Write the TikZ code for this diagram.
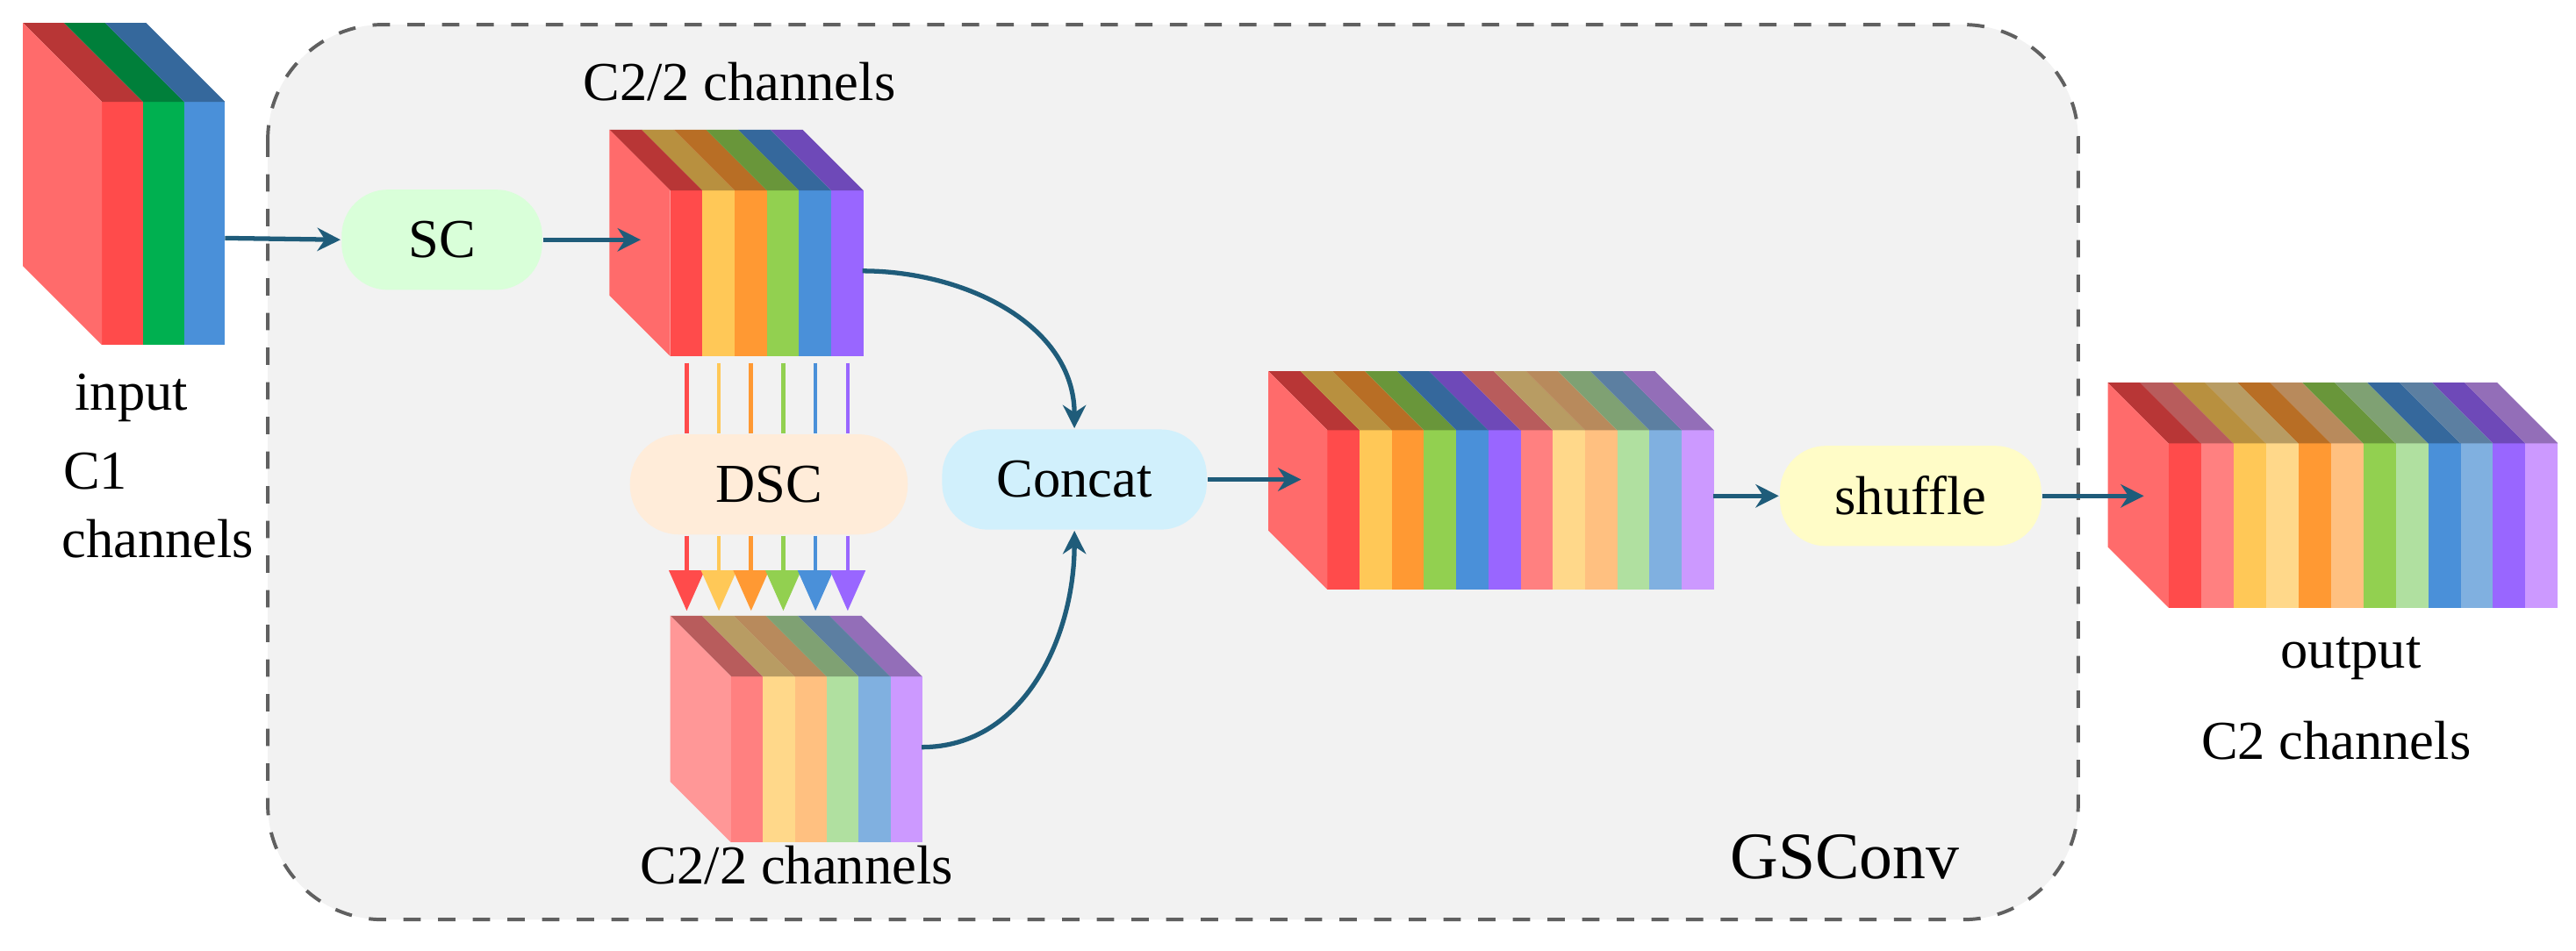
\documentclass[tikz,border=0pt]{standalone}
\usepackage{fontspec}
\setmainfont{Liberation Serif}
\usetikzlibrary{positioning, arrows.meta}
\definecolor{cR}{HTML}{FF4B4B}
\definecolor{cY}{HTML}{FFC857}
\definecolor{cO}{HTML}{FF9933}
\definecolor{cG}{HTML}{92D050}
\definecolor{cB}{HTML}{4A90D9}
\definecolor{cP}{HTML}{9966FF}
\definecolor{cGr}{HTML}{00B050}
\definecolor{lR}{HTML}{FF8080}
\definecolor{lY}{HTML}{FFD88A}
\definecolor{lO}{HTML}{FFC080}
\definecolor{lG}{HTML}{B0E0A0}
\definecolor{lB}{HTML}{80B0E0}
\definecolor{lP}{HTML}{CC99FF}
\definecolor{flow}{HTML}{1F5C7A}
\definecolor{boxgray}{HTML}{F2F2F2}
\tikzset{
  op/.style={
    rectangle,
    rounded corners=0.28cm,
    minimum height=0.61cm,
    font=\fontsize{9.5pt}{11pt}\selectfont
  },
  lbl/.style={
    font=\fontsize{9.5pt}{11pt}\selectfont,
    inner sep=0pt
  },
  arrow/.style={
    flow,
    line width=0.8pt,
    -{Stealth[length=4pt,width=4pt]}
  }
}
% front-left x, front top y, slab width, height, depth, colours
\newcommand{\chstack}[6]{%
  \foreach \c [count=\i from 0] in {#6} {
    \pgfmathsetmacro{\xa}{#1+\i*#3}
    \fill[\c] (\xa,#2) rectangle ++(#3,#4);
    \fill[\c!72!black] (\xa,#2) -- ++(#3,0) -- ++(-#5,-#5) -- ++(-#3,0) -- cycle;
    \ifnum\i=0
      \fill[\c!82!white] (\xa,#2) -- ++(0,#4) -- ++(-#5,-#5) -- ++(0,-#4) -- cycle;
    \fi
  }}

\begin{document}
\begin{tikzpicture}[x=0.01cm, y=-0.01cm]
\useasboundingbox (0,0) rectangle (1568,579);

% GSConv block
\draw[gray!75!black, dashed, line width=0.6pt, fill=boxgray, rounded corners=0.7cm] (163,15) rectangle (1265,560);
\node[font=\fontsize{11.5pt}{13pt}\selectfont] (gsconv) at (1123,522) {GSConv};

% Feature maps
\chstack{62}{62}{25}{148}{48}{cR,cGr,cB}
\chstack{408}{116}{19.6}{101}{37}{cR,cY,cO,cG,cB,cP}
\chstack{445}{412}{19.4}{101}{37}{lR,lY,lO,lG,lB,lP}
\chstack{808}{262}{19.6}{97}{36}{cR,cY,cO,cG,cB,cP,lR,lY,lO,lG,lB,lP}
\chstack{1320}{270}{19.75}{100}{37}{cR,lR,cY,lY,cO,lO,cG,lG,cB,lB,cP,lP}

% Labels
\node[lbl] (inlbl) at (80,242) {input};
\node[lbl] (c1lbl) at (58,287) {C1};
\node[lbl] (chlbl) at (96,328) {channels};
\node[lbl] (toplbl) at (450,50) {C2/2 channels};
\node[lbl] (botlbl) at (485,527) {C2/2 channels};
\node[lbl] (outlbl) at (1431,401) {output};
\node[lbl] (c2lbl) at (1422,451) {C2 channels};

% Operations
\node[op, fill=green!15!white, minimum width=1.22cm] (sc) at (269,146) {SC};
\node[op, fill=orange!15!white, minimum width=1.69cm, rounded corners=0.3cm] (dsc) at (468,295) {DSC};
\node[op, fill=cyan!18!white, minimum width=1.61cm] (concat) at (654,292) {Concat};
\node[op, fill=yellow!22!white, minimum width=1.59cm] (shuffle) at (1163,302) {shuffle};

% Stack anchors
\coordinate (inR) at (137,145);
\coordinate (scIn) at (390,146);
\coordinate (scR) at (525,165);
\coordinate (dscR) at (561,455);
\coordinate (catIn) at (792,292);
\coordinate (catR) at (1043,302);
\coordinate (outIn) at (1305,302);

% Arrows
\draw[arrow] (inR) -- (sc.west);
\draw[arrow] (sc.east) -- (scIn);
\draw[arrow] (scR) to[out=0, in=90] (concat.north);
\draw[arrow] (dscR) to[out=0, in=-90] (concat.south);
\draw[arrow] (concat.east) -- (catIn);
\draw[arrow] (catR) -- (shuffle.west);
\draw[arrow] (shuffle.east) -- (outIn);

\foreach \c [count=\i from 0] in {cR,cY,cO,cG,cB,cP} {
  \coordinate (t\i) at (418+19.6*\i,221);
  \coordinate (b\i) at (418+19.6*\i,372);
  \draw[\c, line width=0.7pt] (t\i) -- (t\i |- dsc.north);
  \draw[\c, line width=0.7pt, -{Triangle[length=7pt,width=6pt]}] (t\i |- dsc.south) -- (b\i);
}
\end{tikzpicture}
\end{document}
